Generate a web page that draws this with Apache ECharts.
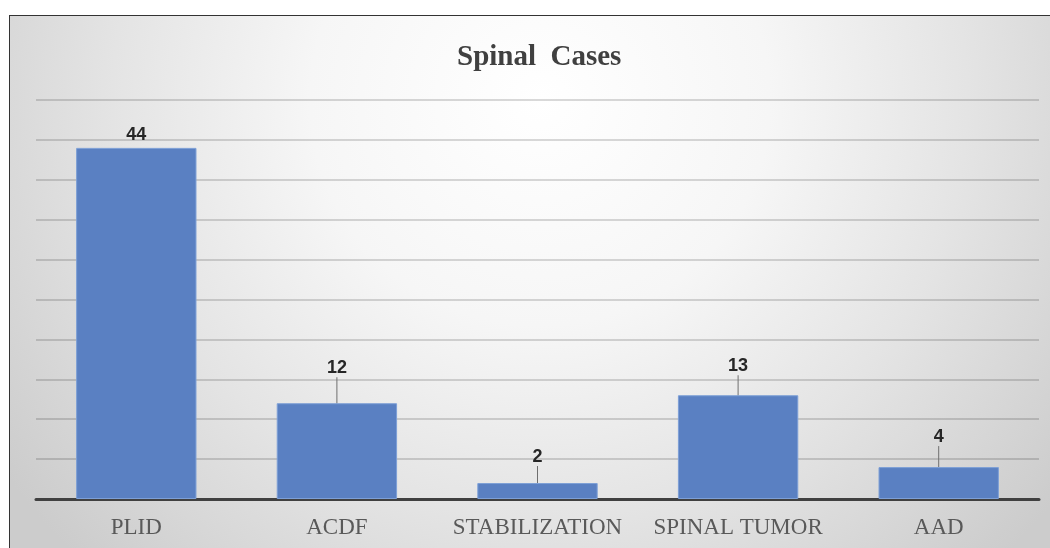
<!DOCTYPE html>
<html>
<head>
<meta charset="utf-8">
<script src="https://cdn.jsdelivr.net/npm/echarts@6/dist/echarts.min.js"></script>
<style>
  html, body { margin: 0; padding: 0; background: #ffffff; }
  #frame {
    position: absolute; left: 9px; top: 15px; width: 1060px; height: 560px;
    border-left: 1.5px solid #333; border-top: 1.5px solid #333;
    background: radial-gradient(ellipse 62% 115% at 50% 15%, #ffffff 0%, #f6f6f6 35%, #e4e4e4 65%, #cccccc 100%);
  }
  #chart { position: absolute; left: 0; top: 0; width: 1050px; height: 548px; }
</style>
</head>
<body>
<div id="frame"></div>
<div id="chart"></div>
<script>
const categories = ['PLID', 'ACDF', 'STABILIZATION', 'SPINAL TUMOR', 'AAD'];
const cases = [44, 12, 2, 13, 4];
const titleText = 'Spinal  Cases';
// vertical shift of each moved data label (style only)
const labelShift = [0, -22, -13, -16, -17];

const seriesData = cases.map(function (v, i) {
  return labelShift[i] === 0 ? { value: v, labelLine: { show: false } } : v;
});

const chart = echarts.init(document.getElementById('chart'), null, { renderer: 'canvas' });
chart.setOption({
  backgroundColor: 'transparent',
  animation: false,
  title: {
    text: titleText,
    left: 452,
    top: 38,
    textStyle: { fontFamily: 'Liberation Serif', fontWeight: 'bold', fontSize: 29, color: '#404040' }
  },
  grid: { left: 36, right: 11, top: 100, bottom: 49 },
  xAxis: {
    type: 'category',
    data: categories,
    axisLine: { lineStyle: { color: '#404040', width: 3 } },
    axisTick: { show: false },
    axisLabel: { interval: 0, fontFamily: 'Liberation Serif', fontSize: 23, color: '#595959', margin: 17 }
  },
  yAxis: {
    type: 'value',
    min: 0, max: 50, interval: 5,
    axisLabel: { show: false },
    axisLine: { show: false },
    axisTick: { show: false },
    splitLine: { lineStyle: { color: 'rgba(0,0,0,0.2)', width: 1.5 } }
  },
  series: [{
    type: 'bar',
    data: seriesData,
    barCategoryGap: '40%',
    itemStyle: { color: '#5A80C2', borderColor: '#7d9fd6', borderWidth: 1 },
    label: {
      show: true, position: 'top', distance: 4,
      fontFamily: 'Liberation Sans', fontWeight: 'bold', fontSize: 18, color: '#262626'
    },
    labelLayout: function (p) { return { dy: labelShift[p.dataIndex] }; },
    labelLine: { show: true, lineStyle: { color: '#6f6f6f', width: 1 } }
  }]
});
</script>
</body>
</html>
